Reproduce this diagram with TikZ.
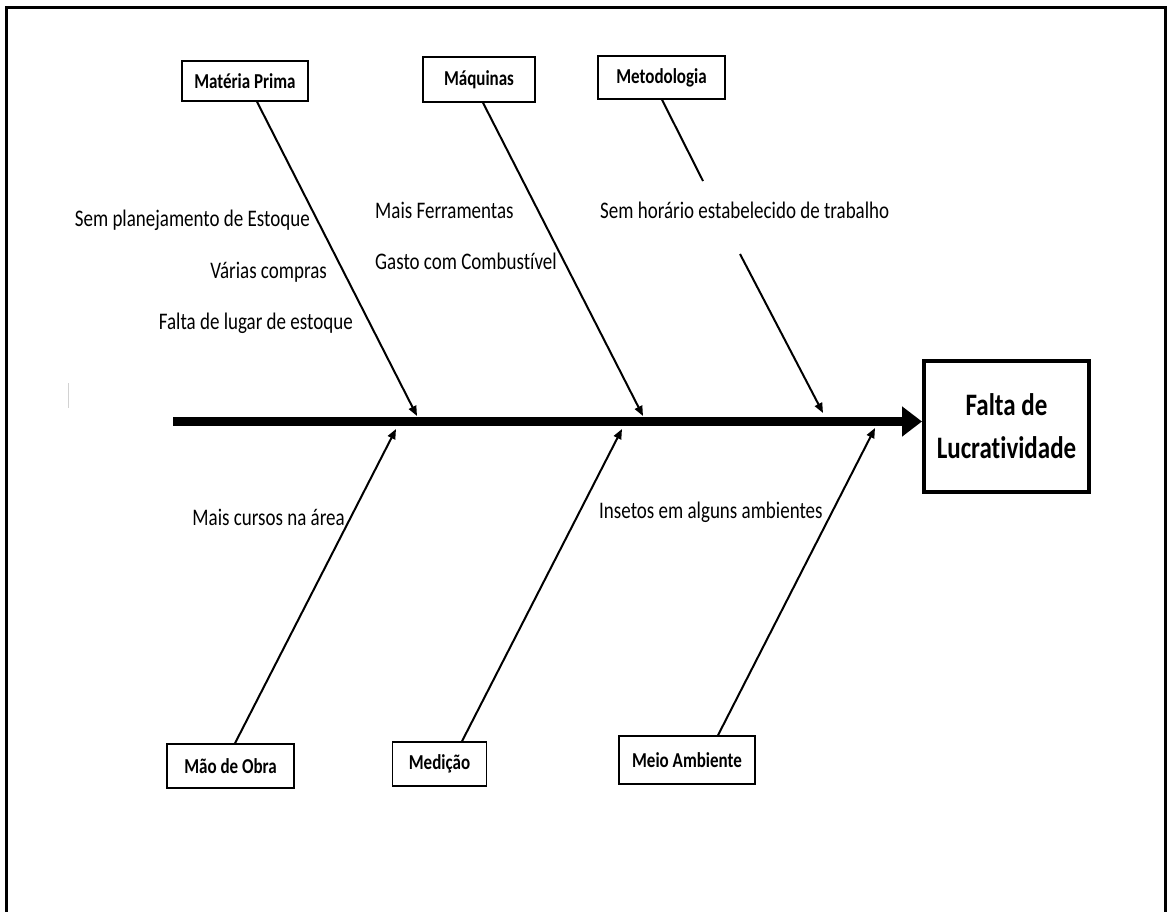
\documentclass[tikz,border=0pt]{standalone}
\usepackage{fontspec}
\usepackage{graphicx}
\setmainfont{Carlito}[Ligatures=NoCommon]
\usetikzlibrary{arrows.meta,calc}
\newcommand{\vstretch}[1]{\scalebox{1}[1.25]{#1}}
\tikzset{
  catbox/.style={draw=black, line width=1.5pt, fill=white, inner sep=0pt, font=\fontsize{17}{20}\selectfont\bfseries},
  cause/.style={font=\fontsize{19}{22}\selectfont, inner sep=0pt},
  bone/.style={line width=2pt, -{Triangle[length=10pt,width=8pt]}},
  spine/.style={line width=9pt, -{Triangle[length=20pt,width=29pt]}},
}
\begin{document}
\begin{tikzpicture}[x=1pt,y=-1pt]
\useasboundingbox (0,0) rectangle (1167,912);
\clip (0,0) rectangle (1167,912);
\fill[white] (0,0) rectangle (1167,912);
\draw[line width=3pt] (6,940) -- (6,8) -- (1165,8) -- (1165,940);
\draw[gray!35, line width=1pt] (68,383) -- (68,408);

% effect box
\node[draw=black, line width=4pt, minimum width=165pt, minimum height=131pt, inner sep=0pt,
      align=center, font=\fontsize{25}{43}\selectfont\bfseries] (rb) at (1006.5,426.5) {\vstretch{Falta de}\\\vstretch{Lucratividade}};

% category boxes
\node[catbox, minimum width=126pt, minimum height=40pt] (mp) at (245,81) {\vstretch{Matéria Prima}};
\node[catbox, minimum width=112pt, minimum height=45pt] (maq) at (479,79.5) {\vstretch{Máquinas}};
\node[catbox, minimum width=127pt, minimum height=43pt] (met) at (661.5,77.5) {\vstretch{Metodologia}};
\node[catbox, minimum width=127pt, minimum height=44pt] (mo) at (230.5,766) {\vstretch{Mão de Obra}};
\node[catbox, minimum width=94pt, minimum height=44pt] (med) at (439.5,764) {\vstretch{Medição}};
\node[catbox, minimum width=136pt, minimum height=48pt] (ma) at (687,760) {\vstretch{Meio Ambiente}};

% spine
\coordinate (s0) at (173,421.5);
\draw[spine] (s0) -- (s0 -| rb.west);

% tips
\coordinate (t1) at (417,416);
\coordinate (t2) at (643,416);
\coordinate (t3) at (823,413);
\coordinate (b1) at (396,429);
\coordinate (b2) at (622,429);
\coordinate (b3) at (875,428);
\coordinate (g1) at (703,181);
\coordinate (g2) at (740,254);

\draw[bone] ($(mp.south)+(12,0)$) -- (t1);
\draw[bone] ($(maq.south)+(4,0)$) -- (t2);
\draw[line width=2pt] ($(met.south)+(0.5,0)$) -- (g1);
\draw[bone] (g2) -- (t3);
\draw[bone] ($(mo.north)+(4.5,0)$) -- (b1);
\draw[bone] ($(med.north)+(22.5,0)$) -- (b2);
\draw[bone] ($(ma.north)+(31,0)$) -- (b3);

% causes
\node[cause, anchor=east] (c1) at (310,220) {\vstretch{Sem planejamento de Estoque}};
\node[cause, anchor=east] (c2) at (327,272) {\vstretch{Várias compras}};
\node[cause, anchor=east] (c3) at (353,323) {\vstretch{Falta de lugar de estoque}};
\node[cause, anchor=west] (c4) at (375,210) {\vstretch{Mais Ferramentas}};
\node[cause, anchor=west] (c5) at (375,261) {\vstretch{Gasto com Combustível}};
\node[cause, anchor=west] (c6) at (600,210) {\vstretch{Sem horário estabelecido de trabalho}};
\node[cause, anchor=east] (c7) at (345,517) {\vstretch{Mais cursos na área}};
\node[cause, anchor=west] (c8) at (599,512) {\vstretch{Insetos em alguns ambientes}};
\end{tikzpicture}
\end{document}
